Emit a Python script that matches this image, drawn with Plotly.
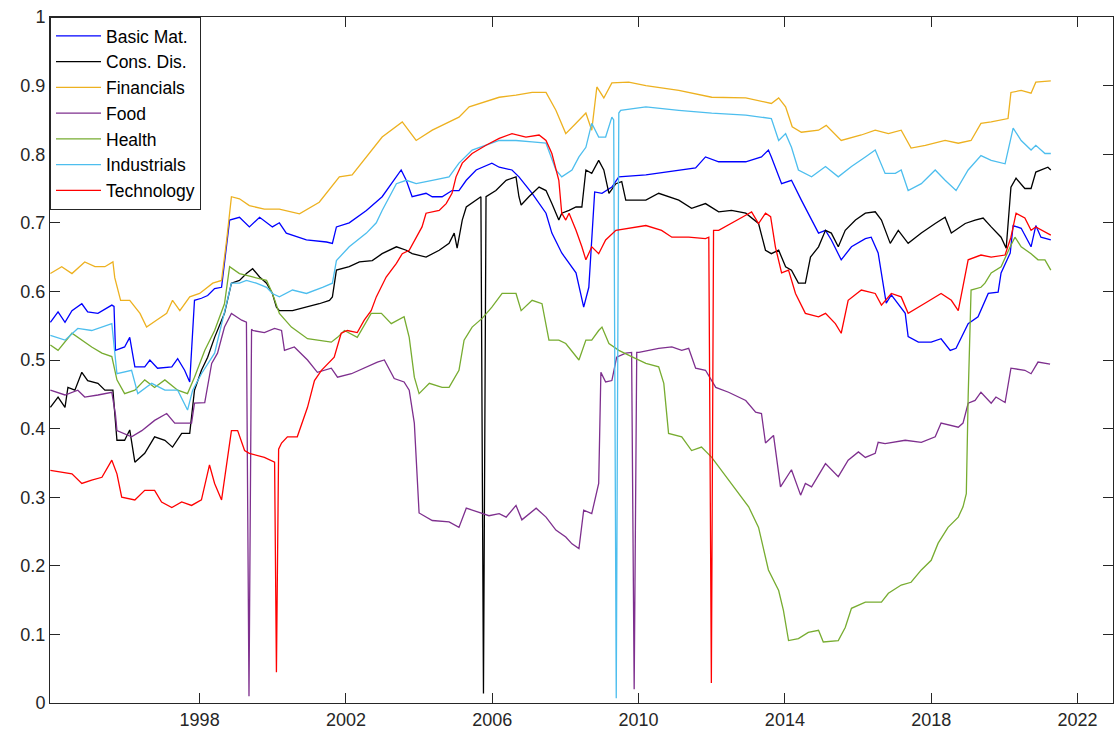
import plotly.graph_objects as go

# ---- data (decimal years, correlation-like values) ----
basic_mat_t = [1993.92, 1994.13, 1994.32, 1994.51, 1994.78, 1994.94, 1995.22, 1995.60, 1995.66, 1995.70, 1995.95,
               1996.09, 1996.23, 1996.50, 1996.64, 1996.85, 1997.24, 1997.40, 1997.59, 1997.73, 1997.86, 1998.05,
               1998.22, 1998.41, 1998.60, 1998.82, 1999.09, 1999.36, 1999.64, 1999.99, 2000.18, 2000.37, 2000.92,
               2001.47, 2001.63, 2001.74, 2002.09, 2002.56, 2002.99, 2003.38, 2003.51, 2003.65, 2003.81, 2004.19,
               2004.36, 2004.63, 2004.90, 2005.09, 2005.29, 2005.56, 2005.99, 2006.19, 2006.54, 2006.73, 2007.09,
               2007.47, 2007.63, 2007.90, 2008.29, 2008.50, 2008.64, 2008.80, 2009.00, 2009.27, 2009.46, 2010.20,
               2011.10, 2011.56, 2011.83, 2012.19, 2012.93, 2013.36, 2013.55, 2013.63, 2013.91, 2014.18, 2014.45,
               2014.73, 2014.92, 2015.11, 2015.27, 2015.54, 2015.82, 2016.20, 2016.36, 2016.55, 2016.69, 2016.77,
               2016.91, 2017.29, 2017.37, 2017.65, 2018.00, 2018.27, 2018.52, 2018.68, 2019.01, 2019.28, 2019.56,
               2019.83, 2019.91, 2020.16, 2020.24, 2020.46, 2020.73, 2020.86, 2021.00, 2021.27]
basic_mat_v = [0.555, 0.570, 0.555, 0.572, 0.582, 0.570, 0.568, 0.580, 0.578, 0.514, 0.519,
               0.533, 0.490, 0.490, 0.500, 0.488, 0.490, 0.502, 0.485, 0.468, 0.587, 0.590,
               0.594, 0.604, 0.606, 0.704, 0.708, 0.694, 0.708, 0.694, 0.700, 0.685, 0.675,
               0.672, 0.670, 0.694, 0.700, 0.718, 0.738, 0.767, 0.777, 0.762, 0.738, 0.743,
               0.738, 0.738, 0.747, 0.747, 0.762, 0.777, 0.787, 0.781, 0.777, 0.767, 0.743,
               0.714, 0.685, 0.656, 0.627, 0.577, 0.606, 0.745, 0.743, 0.752, 0.767, 0.770,
               0.777, 0.780, 0.796, 0.789, 0.789, 0.796, 0.806, 0.796, 0.757, 0.762, 0.733,
               0.704, 0.685, 0.689, 0.675, 0.646, 0.665, 0.677, 0.679, 0.656, 0.606, 0.583,
               0.595, 0.568, 0.534, 0.526, 0.526, 0.531, 0.514, 0.517, 0.553, 0.563, 0.597,
               0.599, 0.627, 0.656, 0.696, 0.692, 0.665, 0.696, 0.679, 0.675]

cons_dis_t = [1993.92, 1994.13, 1994.32, 1994.40, 1994.59, 1994.78, 1994.94, 1995.22, 1995.41, 1995.63, 1995.74,
              1995.95, 1996.09, 1996.23, 1996.50, 1996.77, 1997.05, 1997.26, 1997.51, 1997.73, 1997.86, 1998.05,
              1998.22, 1998.41, 1998.68, 1998.87, 1999.09, 1999.28, 1999.45, 1999.64, 1999.83, 1999.99, 2000.10,
              2000.18, 2000.54, 2000.92, 2001.27, 2001.55, 2001.63, 2001.74, 2002.09, 2002.37, 2002.72, 2002.99,
              2003.38, 2003.65, 2003.81, 2004.19, 2004.55, 2004.82, 2004.96, 2005.04, 2005.18, 2005.29, 2005.56,
              2005.69, 2005.76, 2005.83, 2006.10, 2006.38, 2006.65, 2006.73, 2006.79, 2007.00, 2007.28, 2007.47,
              2007.63, 2007.82, 2007.90, 2008.10, 2008.29, 2008.45, 2008.56, 2008.72, 2008.91, 2009.05, 2009.19,
              2009.38, 2009.54, 2009.65, 2010.20, 2010.55, 2011.10, 2011.45, 2011.83, 2012.19, 2012.54, 2012.93,
              2013.28, 2013.47, 2013.63, 2013.83, 2014.02, 2014.18, 2014.37, 2014.56, 2014.70, 2014.92, 2015.11,
              2015.27, 2015.46, 2015.65, 2015.93, 2016.20, 2016.47, 2016.64, 2016.88, 2017.10, 2017.37, 2017.73,
              2018.11, 2018.38, 2018.55, 2018.93, 2019.20, 2019.42, 2019.64, 2019.91, 2020.05, 2020.18, 2020.32,
              2020.56, 2020.73, 2020.86, 2021.19, 2021.27]
cons_dis_v = [0.431, 0.446, 0.431, 0.460, 0.456, 0.482, 0.470, 0.466, 0.456, 0.456, 0.383,
              0.383, 0.398, 0.351, 0.364, 0.388, 0.383, 0.373, 0.393, 0.393, 0.456, 0.485,
              0.504, 0.533, 0.568, 0.612, 0.616, 0.626, 0.633, 0.621, 0.612, 0.597, 0.577,
              0.572, 0.572, 0.577, 0.582, 0.587, 0.592, 0.631, 0.636, 0.643, 0.645, 0.655,
              0.665, 0.660, 0.655, 0.650, 0.660, 0.670, 0.685, 0.663, 0.704, 0.723, 0.733,
              0.738, 0.014, 0.738, 0.747, 0.762, 0.767, 0.738, 0.726, 0.738, 0.752, 0.747,
              0.728, 0.704, 0.714, 0.718, 0.723, 0.723, 0.777, 0.772, 0.791, 0.777, 0.743,
              0.757, 0.760, 0.733, 0.733, 0.743, 0.733, 0.721, 0.728, 0.716, 0.718, 0.714,
              0.699, 0.660, 0.655, 0.660, 0.636, 0.631, 0.612, 0.612, 0.650, 0.665, 0.689,
              0.685, 0.665, 0.689, 0.704, 0.714, 0.716, 0.704, 0.670, 0.689, 0.670, 0.685,
              0.699, 0.708, 0.685, 0.699, 0.704, 0.707, 0.694, 0.679, 0.663, 0.752, 0.765,
              0.750, 0.750, 0.774, 0.781, 0.777]

financials_t = [1993.92, 1994.23, 1994.51, 1994.86, 1995.14, 1995.41, 1995.63, 1995.68, 1995.84, 1996.09, 1996.37,
                1996.55, 1996.82, 1997.10, 1997.26, 1997.46, 1997.73, 1998.00, 1998.36, 1998.60, 1998.74, 1998.87,
                1999.09, 1999.36, 1999.77, 2000.18, 2000.73, 2001.27, 2001.82, 2002.17, 2002.99, 2003.54, 2003.92,
                2004.36, 2005.09, 2005.37, 2006.19, 2006.65, 2007.09, 2007.47, 2007.74, 2008.01, 2008.29, 2008.56,
                2008.72, 2008.86, 2009.05, 2009.27, 2009.73, 2010.20, 2011.10, 2012.00, 2012.93, 2013.63, 2013.83,
                2014.02, 2014.20, 2014.45, 2014.92, 2015.13, 2015.54, 2016.09, 2016.47, 2016.83, 2017.18, 2017.45,
                2017.84, 2018.38, 2018.74, 2019.09, 2019.36, 2019.64, 2020.10, 2020.18, 2020.46, 2020.73, 2020.86,
                2021.27]
financials_v = [0.626, 0.636, 0.626, 0.643, 0.636, 0.636, 0.643, 0.620, 0.587, 0.587, 0.568,
                0.548, 0.558, 0.568, 0.587, 0.572, 0.592, 0.597, 0.612, 0.616, 0.675, 0.738,
                0.735, 0.725, 0.720, 0.720, 0.713, 0.730, 0.767, 0.770, 0.825, 0.847, 0.820,
                0.835, 0.854, 0.869, 0.883, 0.886, 0.890, 0.890, 0.864, 0.830, 0.845, 0.860,
                0.835, 0.898, 0.882, 0.904, 0.905, 0.900, 0.893, 0.883, 0.882, 0.874, 0.882,
                0.869, 0.840, 0.832, 0.835, 0.842, 0.820, 0.828, 0.835, 0.830, 0.835, 0.809,
                0.813, 0.820, 0.816, 0.820, 0.845, 0.847, 0.852, 0.890, 0.893, 0.889, 0.905,
                0.907]

food_t = [1993.92, 1994.32, 1994.67, 1994.86, 1995.22, 1995.60, 1995.70, 1995.74, 1996.14, 1996.42, 1996.77,
          1997.10, 1997.32, 1997.78, 1997.86, 1998.14, 1998.33, 1998.49, 1998.68, 1998.87, 1999.15, 1999.28,
          1999.35, 1999.42, 1999.45, 1999.77, 2000.05, 2000.24, 2000.32, 2000.59, 2000.95, 2001.22, 2001.60,
          2001.77, 2002.15, 2002.50, 2002.86, 2003.05, 2003.32, 2003.59, 2003.73, 2003.87, 2004.00, 2004.36,
          2004.82, 2005.09, 2005.29, 2005.64, 2005.91, 2006.19, 2006.38, 2006.65, 2006.81, 2007.20, 2007.47,
          2007.74, 2008.01, 2008.18, 2008.37, 2008.50, 2008.72, 2008.91, 2008.97, 2009.10, 2009.27, 2009.40,
          2009.65, 2009.81, 2009.88, 2009.95, 2010.01, 2010.55, 2010.91, 2011.18, 2011.37, 2011.56, 2011.83,
          2012.11, 2012.46, 2012.93, 2013.20, 2013.36, 2013.47, 2013.69, 2013.88, 2014.18, 2014.43, 2014.56,
          2014.73, 2015.11, 2015.46, 2015.73, 2016.01, 2016.20, 2016.47, 2016.55, 2016.74, 2017.29, 2017.73,
          2018.11, 2018.27, 2018.74, 2018.87, 2019.01, 2019.20, 2019.36, 2019.64, 2019.77, 2020.02, 2020.18,
          2020.56, 2020.73, 2020.92, 2021.25]
food_v = [0.456, 0.449, 0.456, 0.446, 0.449, 0.453, 0.420, 0.397, 0.388, 0.397, 0.412,
          0.422, 0.408, 0.408, 0.437, 0.438, 0.495, 0.510, 0.548, 0.568, 0.558, 0.555,
          0.010, 0.545, 0.543, 0.540, 0.546, 0.543, 0.514, 0.519, 0.500, 0.482, 0.488,
          0.475, 0.480, 0.488, 0.497, 0.500, 0.473, 0.468, 0.456, 0.408, 0.277, 0.266,
          0.264, 0.256, 0.284, 0.278, 0.273, 0.276, 0.271, 0.288, 0.267, 0.284, 0.271,
          0.252, 0.242, 0.232, 0.225, 0.281, 0.276, 0.320, 0.482, 0.468, 0.470, 0.504,
          0.510, 0.511, 0.020, 0.511, 0.511, 0.517, 0.519, 0.514, 0.517, 0.488, 0.485,
          0.460, 0.453, 0.441, 0.424, 0.422, 0.379, 0.390, 0.315, 0.340, 0.303, 0.320,
          0.315, 0.349, 0.330, 0.354, 0.366, 0.358, 0.364, 0.380, 0.378, 0.383, 0.380,
          0.388, 0.408, 0.402, 0.408, 0.437, 0.441, 0.453, 0.437, 0.446, 0.438, 0.488,
          0.485, 0.480, 0.497, 0.494]

health_t = [1993.92, 1994.13, 1994.51, 1994.78, 1995.05, 1995.33, 1995.60, 1995.74, 1995.95, 1996.23, 1996.50,
            1996.77, 1997.05, 1997.40, 1997.67, 1997.86, 1998.14, 1998.41, 1998.68, 1998.82, 1999.09, 1999.45,
            1999.83, 1999.99, 2000.18, 2000.51, 2000.95, 2001.60, 2001.77, 2001.96, 2002.31, 2002.69, 2002.97,
            2003.24, 2003.59, 2003.73, 2003.87, 2004.00, 2004.28, 2004.63, 2004.82, 2005.09, 2005.23, 2005.45,
            2005.73, 2005.99, 2006.27, 2006.65, 2006.79, 2007.09, 2007.36, 2007.55, 2007.82, 2008.01, 2008.29,
            2008.37, 2008.56, 2008.72, 2008.91, 2009.00, 2009.19, 2009.46, 2009.81, 2010.20, 2010.55, 2010.69,
            2010.82, 2011.18, 2011.45, 2011.72, 2012.00, 2012.54, 2013.01, 2013.28, 2013.36, 2013.55, 2013.83,
            2013.96, 2014.10, 2014.37, 2014.64, 2014.92, 2015.05, 2015.46, 2015.65, 2015.82, 2016.20, 2016.64,
            2016.83, 2017.18, 2017.45, 2017.73, 2018.00, 2018.19, 2018.46, 2018.74, 2018.87, 2018.96, 2019.01,
            2019.06, 2019.09, 2019.36, 2019.47, 2019.64, 2019.91, 2020.16, 2020.29, 2020.46, 2020.73, 2020.92,
            2021.11, 2021.27]
health_v = [0.522, 0.514, 0.539, 0.529, 0.519, 0.510, 0.505, 0.471, 0.451, 0.456, 0.471,
            0.460, 0.471, 0.456, 0.451, 0.475, 0.514, 0.543, 0.582, 0.636, 0.626, 0.621,
            0.616, 0.597, 0.568, 0.548, 0.531, 0.526, 0.533, 0.543, 0.533, 0.568, 0.568,
            0.553, 0.563, 0.533, 0.475, 0.451, 0.466, 0.460, 0.460, 0.485, 0.529, 0.548,
            0.561, 0.577, 0.597, 0.597, 0.572, 0.587, 0.582, 0.529, 0.529, 0.524, 0.505,
            0.500, 0.529, 0.529, 0.543, 0.548, 0.524, 0.514, 0.505, 0.495, 0.490, 0.466,
            0.393, 0.388, 0.368, 0.373, 0.358, 0.320, 0.286, 0.256, 0.237, 0.194, 0.164,
            0.135, 0.091, 0.094, 0.103, 0.106, 0.089, 0.091, 0.110, 0.138, 0.147, 0.147,
            0.160, 0.172, 0.176, 0.194, 0.208, 0.233, 0.256, 0.271, 0.286, 0.305, 0.446,
            0.568, 0.602, 0.606, 0.612, 0.627, 0.636, 0.665, 0.679, 0.665, 0.655, 0.646,
            0.646, 0.631]

industrials_t = [1993.92, 1994.32, 1994.67, 1995.05, 1995.60, 1995.70, 1995.74, 1996.14, 1996.31, 1996.69, 1997.05,
                 1997.40, 1997.67, 1997.81, 1998.05, 1998.41, 1998.68, 1998.87, 1999.09, 1999.28, 1999.55, 1999.83,
                 1999.99, 2000.18, 2000.54, 2000.92, 2001.36, 2001.63, 2001.74, 2002.09, 2002.56, 2002.83, 2002.99,
                 2003.38, 2003.65, 2003.92, 2004.36, 2004.82, 2005.09, 2005.45, 2006.19, 2006.65, 2007.09, 2007.47,
                 2007.74, 2007.90, 2008.18, 2008.37, 2008.56, 2008.72, 2008.91, 2009.10, 2009.27, 2009.32, 2009.39,
                 2009.46, 2009.51, 2010.20, 2011.10, 2012.00, 2012.93, 2013.63, 2013.83, 2014.02, 2014.18, 2014.37,
                 2014.73, 2015.11, 2015.46, 2015.82, 2016.20, 2016.47, 2016.74, 2017.02, 2017.18, 2017.37, 2017.73,
                 2018.11, 2018.38, 2018.68, 2019.01, 2019.36, 2019.64, 2020.02, 2020.24, 2020.46, 2020.73, 2020.86,
                 2021.11, 2021.27]
industrials_v = [0.536, 0.529, 0.546, 0.543, 0.553, 0.500, 0.480, 0.485, 0.451, 0.466, 0.456,
                 0.456, 0.427, 0.456, 0.480, 0.510, 0.568, 0.612, 0.612, 0.616, 0.612, 0.606,
                 0.597, 0.592, 0.602, 0.597, 0.606, 0.612, 0.645, 0.665, 0.685, 0.700, 0.718,
                 0.757, 0.762, 0.757, 0.762, 0.767, 0.787, 0.806, 0.820, 0.820, 0.818, 0.816,
                 0.777, 0.767, 0.777, 0.796, 0.810, 0.845, 0.825, 0.825, 0.854, 0.850, 0.007,
                 0.860, 0.864, 0.869, 0.864, 0.860, 0.857, 0.852, 0.820, 0.830, 0.810, 0.777,
                 0.767, 0.782, 0.767, 0.782, 0.796, 0.806, 0.772, 0.772, 0.777, 0.747, 0.757,
                 0.777, 0.762, 0.747, 0.777, 0.798, 0.791, 0.786, 0.838, 0.820, 0.806, 0.813,
                 0.801, 0.801]

technology_t = [1993.92, 1994.23, 1994.51, 1994.78, 1995.05, 1995.33, 1995.60, 1995.74, 1995.87, 1996.23, 1996.50,
                1996.77, 1996.96, 1997.24, 1997.51, 1997.78, 1998.05, 1998.27, 1998.41, 1998.60, 1998.87, 1999.04,
                1999.23, 1999.36, 1999.77, 2000.05, 2000.10, 2000.16, 2000.24, 2000.40, 2000.67, 2000.95, 2001.14,
                2001.33, 2001.68, 2001.87, 2002.04, 2002.31, 2002.50, 2002.69, 2002.83, 2003.10, 2003.38, 2003.54,
                2003.73, 2004.08, 2004.19, 2004.55, 2004.74, 2004.90, 2005.01, 2005.18, 2005.45, 2005.83, 2006.19,
                2006.54, 2006.92, 2007.28, 2007.47, 2007.63, 2007.82, 2007.90, 2008.01, 2008.10, 2008.29, 2008.45,
                2008.56, 2008.72, 2008.91, 2009.10, 2009.38, 2010.20, 2010.63, 2010.91, 2011.37, 2011.83, 2011.92,
                2011.99, 2012.05, 2012.19, 2012.54, 2012.93, 2013.09, 2013.28, 2013.47, 2013.61, 2013.74, 2013.91,
                2014.10, 2014.29, 2014.56, 2014.92, 2015.11, 2015.38, 2015.54, 2015.73, 2016.09, 2016.47, 2016.64,
                2016.91, 2017.18, 2017.37, 2017.84, 2018.27, 2018.55, 2018.74, 2019.01, 2019.36, 2019.64, 2020.02,
                2020.18, 2020.32, 2020.56, 2020.73, 2020.86, 2021.27]
technology_v = [0.339, 0.336, 0.334, 0.320, 0.325, 0.329, 0.354, 0.334, 0.300, 0.296, 0.310,
                0.310, 0.293, 0.285, 0.293, 0.288, 0.296, 0.347, 0.320, 0.296, 0.397, 0.397,
                0.368, 0.364, 0.358, 0.351, 0.045, 0.370, 0.379, 0.388, 0.388, 0.431, 0.470,
                0.485, 0.504, 0.539, 0.543, 0.540, 0.558, 0.572, 0.592, 0.621, 0.641, 0.655,
                0.660, 0.694, 0.714, 0.718, 0.728, 0.743, 0.767, 0.787, 0.801, 0.813, 0.823,
                0.830, 0.825, 0.828, 0.820, 0.801, 0.762, 0.714, 0.704, 0.714, 0.689, 0.665,
                0.646, 0.665, 0.655, 0.675, 0.689, 0.696, 0.689, 0.679, 0.679, 0.677, 0.679,
                0.029, 0.689, 0.689, 0.699, 0.711, 0.716, 0.699, 0.714, 0.709, 0.665, 0.627,
                0.631, 0.597, 0.568, 0.563, 0.568, 0.553, 0.539, 0.587, 0.602, 0.597, 0.580,
                0.597, 0.592, 0.568, 0.583, 0.597, 0.587, 0.572, 0.646, 0.653, 0.650, 0.653,
                0.679, 0.714, 0.707, 0.689, 0.694, 0.682]

series_names = ["Basic Mat.", "Cons. Dis.", "Financials", "Food", "Health", "Industrials", "Technology"]
series_t = [basic_mat_t, cons_dis_t, financials_t, food_t, health_t, industrials_t, technology_t]
series_v = [basic_mat_v, cons_dis_v, financials_v, food_v, health_v, industrials_v, technology_v]
series_colors = ["#0000FF", "#000000", "#EDB120", "#7E2F8E", "#77AC30", "#4DBEEE", "#FF0000"]

x_tick_vals = [1998, 2002, 2006, 2010, 2014, 2018, 2022]
y_tick_vals = [0, 0.1, 0.2, 0.3, 0.4, 0.5, 0.6, 0.7, 0.8, 0.9, 1]
y_tick_text = ["0", "0.1", "0.2", "0.3", "0.4", "0.5", "0.6", "0.7", "0.8", "0.9", "1"]

FONT = "Liberation Sans, Arial, Helvetica, sans-serif"
AXC = "#262626"

fig = go.Figure()
for name, t, v, c in zip(series_names, series_t, series_v, series_colors):
    fig.add_trace(go.Scatter(x=t, y=v, mode="lines", name=name,
                             line=dict(color=c, width=1.3)))

fig.update_layout(
    width=1115, height=740,
    margin=dict(l=50, r=2, t=17, b=37),
    paper_bgcolor="white", plot_bgcolor="white",
    font=dict(family=FONT, size=17, color=AXC),
    showlegend=True,
    legend=dict(x=0, y=1, xanchor="left", yanchor="top",
                bgcolor="white", bordercolor=AXC, borderwidth=1,
                font=dict(family=FONT, size=17.5, color="#000000"),
                itemwidth=45, tracegroupgap=0),
    xaxis=dict(range=[1993.91, 2022.97], tickmode="array", tickvals=x_tick_vals,
               ticktext=[str(v) for v in x_tick_vals],
               ticks="inside", ticklen=10, tickcolor=AXC, tickwidth=1,
               showline=True, linecolor=AXC, linewidth=1, mirror="ticks",
               showgrid=False, zeroline=False, automargin=False,
               tickfont=dict(family=FONT, size=18, color=AXC)),
    yaxis=dict(range=[0, 1], tickmode="array", tickvals=y_tick_vals, ticktext=y_tick_text,
               ticks="inside", ticklen=10, tickcolor=AXC, tickwidth=1,
               showline=True, linecolor=AXC, linewidth=1, mirror="ticks",
               showgrid=False, zeroline=False, automargin=False,
               tickfont=dict(family=FONT, size=18, color=AXC)),
)

fig.write_html("out.html")
